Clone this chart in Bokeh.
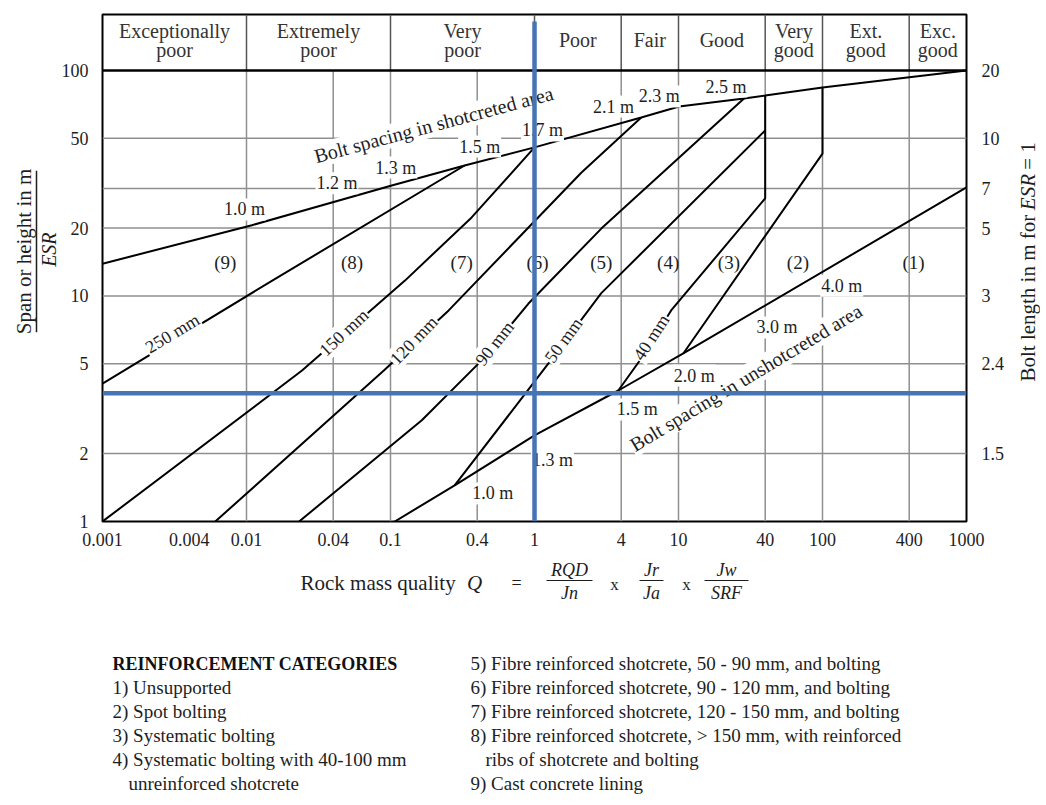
from bokeh.plotting import figure
from bokeh.models import Range1d, LogAxis, FixedTicker
from bokeh.layouts import column, row
from bokeh.core.properties import value
from bokeh.embed import file_html
from bokeh.resources import INLINE

FONT = "Liberation Serif"
INK = "#1e1e1e"
GRID = "#8f8f8f"
BLUE = "#4675b6"

# ---------------- axes ----------------
q_ticks = [0.001, 0.004, 0.01, 0.04, 0.1, 0.4, 1, 4, 10, 40, 100, 400, 1000]
q_tick_labels = ["0.001", "0.004", "0.01", "0.04", "0.1", "0.4", "1", "4", "10", "40", "100", "400", "1000"]
span_ticks = [1, 2, 5, 10, 20, 50, 100]
span_tick_labels = ["1", "2", "5", "10", "20", "50", "100"]
bolt_ticks = [2, 5, 10, 20, 30, 50, 100]
bolt_tick_labels = ["1.5", "2.4", "3", "5", "7", "10", "20"]
grid_q = [0.01, 0.04, 0.1, 0.4, 4, 10, 40, 100, 400]
grid_span = [2, 5, 10, 20, 30, 50]
q_min, q_max = 0.001, 1000
span_min, span_max = 1, 100
span_top = 177.1  # top of the rock-class header band

# ---------------- header (rock mass classes) ----------------
class_bounds = [0.001, 0.01, 0.1, 1, 4, 10, 40, 100, 400, 1000]
class_line1 = ["Exceptionally", "Extremely", "Very", "Poor", "Fair", "Good", "Very", "Ext.", "Exc."]
class_line2 = ["poor", "poor", "poor", "", "", "", "good", "good", "good"]

# ---------------- boundary curves (Q, span/ESR) ----------------
shot_bolt_q = [0.001, 0.0109, 0.102, 0.327, 1.0, 5.51, 10.1, 28.5, 40, 100, 1000]
shot_bolt_s = [13.9, 20.6, 30.9, 37.9, 45.6, 61.9, 69.2, 75.1, 77.4, 84.1, 100]
unshot_bolt_q = [0.107, 0.279, 1.0, 3.82, 10.8, 1000]
unshot_bolt_s = [1.0, 1.445, 2.41, 3.81, 5.56, 30.3]
t250_q = [0.001, 0.0151, 0.327]
t250_s = [4.09, 11.7, 37.9]
t150_q = [0.001, 0.0243, 0.126, 0.366, 1.0]
t150_s = [1.0, 4.67, 11.7, 22.3, 45.6]
t120_q = [0.00607, 0.0899, 0.2535, 2.12, 5.51]
t120_s = [1.0, 4.67, 8.63, 35.3, 61.9]
t90_q = [0.0232, 0.165, 0.43, 0.908, 2.91, 28.5]
t90_s = [1.0, 2.81, 5.18, 9.26, 19.9, 75.1]
t50_q = [0.279, 1.25, 2.91, 40]
t50_s = [1.445, 5.02, 10.3, 54.2]
t40_q = [3.82, 5.51, 8.89, 40, 40]
t40_s = [3.81, 5.28, 8.63, 27.1, 77.4]
b32_q = [10.8, 100, 100]
b32_s = [5.56, 42.8, 84.1]

example_q = 1.0
example_span = 3.7
example_top = 165

# ---------------- in-chart labels ----------------
region_names = ["(1)", "(2)", "(3)", "(4)", "(5)", "(6)", "(7)", "(8)", "(9)"]
region_q = [429, 67.5, 22.4, 8.48, 2.91, 1.05, 0.312, 0.054, 0.00712]
region_span = 14.1

shot_spacing_labels = ["1.0 m", "1.2 m", "1.3 m", "1.5 m", "1.7 m", "2.1 m", "2.3 m", "2.5 m"]
shot_spacing_q = [0.00968, 0.0425, 0.1089, 0.416, 1.137, 3.53, 7.35, 21.4]
shot_spacing_s = [24.2, 31.6, 37.1, 46.0, 54.2, 69.2, 76.7, 84.9]

unshot_spacing_labels = ["1.0 m", "1.3 m", "1.5 m", "2.0 m", "3.0 m", "4.0 m"]
unshot_spacing_q = [0.512, 1.333, 5.17, 12.84, 48.3, 136]
unshot_spacing_s = [1.331, 1.865, 3.14, 4.44, 7.25, 11.1]

thickness_labels = ["250 mm", "150 mm", "120 mm", "90 mm", "50 mm", "40 mm"]
thickness_q = [0.00306, 0.0474, 0.1452, 0.528, 1.59, 6.47]
thickness_s = [6.82, 6.89, 6.36, 6.16, 6.36, 6.55]
thickness_angle = [31, 43, 46, 52, 54, 57]

# ---------------- legend ----------------
legend_title = "REINFORCEMENT CATEGORIES"
legend_left = ["1) Unsupported", "2) Spot bolting", "3) Systematic bolting",
               "4) Systematic bolting with 40-100 mm", "unreinforced shotcrete"]
legend_right = ["5) Fibre reinforced shotcrete, 50 - 90 mm, and bolting",
                "6) Fibre reinforced shotcrete, 90 - 120 mm, and bolting",
                "7) Fibre reinforced shotcrete, 120 - 150 mm, and bolting",
                "8) Fibre reinforced shotcrete, > 150 mm, with reinforced",
                "ribs of shotcrete and bolting",
                "9) Cast concrete lining"]


def txt(fig, x, y, t, size="18px", align="center", angle=0, style="normal", color=INK, bg=None, baseline="middle"):
    kw = dict(x=x, y=y, text=t, text_font=value(FONT), text_font_size=size,
              text_align=align, text_baseline=baseline, angle=angle, angle_units="deg",
              text_font_style=style, text_color=color)
    if bg:
        kw.update(background_fill_color=bg, padding=1)
    return fig.text(**kw)


def page_fig(w, h, x0, y0):
    f = figure(width=w, height=h, x_range=Range1d(x0, x0 + w), y_range=Range1d(-(y0 + h), -y0),
               output_backend="svg", toolbar_location=None, min_border=0,
               x_axis_location=None, y_axis_location=None)
    f.grid.visible = False
    f.outline_line_color = None
    return f


TOP_H = 552

# ================= main chart =================
p = figure(width=952, height=TOP_H, x_axis_type="log", y_axis_type="log",
           x_range=Range1d(q_min, q_max), y_range=Range1d(span_min, span_top),
           output_backend="svg", toolbar_location=None,
           min_border_left=42, min_border_right=44, min_border_top=14, min_border_bottom=31)
p.grid.visible = False
p.outline_line_color = "black"
p.outline_line_width = 2

p.xaxis.ticker = FixedTicker(ticks=q_ticks)
p.xaxis.major_label_overrides = {t: l for t, l in zip(q_ticks, q_tick_labels)}
p.yaxis.ticker = FixedTicker(ticks=span_ticks)
p.yaxis.major_label_overrides = {t: l for t, l in zip(span_ticks, span_tick_labels)}
raxis = LogAxis(ticker=FixedTicker(ticks=bolt_ticks),
                major_label_overrides={t: l for t, l in zip(bolt_ticks, bolt_tick_labels)})
p.add_layout(raxis, "right")
for ax in (p.xaxis[0], p.yaxis[0], raxis):
    ax.axis_line_color = None
    ax.major_tick_line_color = None
    ax.minor_tick_line_color = None
    ax.major_label_text_font = FONT
    ax.major_label_text_font_size = "18px"
    ax.major_label_text_color = INK
p.xaxis.major_label_standoff = 5
p.yaxis[0].major_label_standoff = 8
raxis.major_label_standoff = 9

# grid
p.segment(x0=grid_q, y0=[span_min] * len(grid_q), x1=grid_q, y1=[span_max] * len(grid_q),
          line_color=GRID, line_width=1.5)
p.segment(x0=[q_min] * len(grid_span), y0=grid_span, x1=[q_max] * len(grid_span), y1=grid_span,
          line_color=GRID, line_width=1.5)

# header band
inner = class_bounds[1:-1]
p.segment(x0=inner, y0=[span_max] * len(inner), x1=inner, y1=[span_top] * len(inner),
          line_color="#555555", line_width=1.5)
p.line([q_min, q_max], [span_max, span_max], line_color="black", line_width=2.5)
mids = [(a * b) ** 0.5 for a, b in zip(class_bounds[:-1], class_bounds[1:])]
one = [m for m, l2 in zip(mids, class_line2) if not l2]
two = [m for m, l2 in zip(mids, class_line2) if l2]
txt(p, one, [135.9] * len(one), [a for a, b in zip(class_line1, class_line2) if not b], size="20px", color="#333333")
txt(p, two, [150.4] * len(two), [a for a, b in zip(class_line1, class_line2) if b], size="20px", color="#333333")
txt(p, two, [122.7] * len(two), [b for b in class_line2 if b], size="20px", color="#333333")

# curves
curves_q = [shot_bolt_q, unshot_bolt_q, t250_q, t150_q, t120_q, t90_q, t50_q, t40_q, b32_q]
curves_s = [shot_bolt_s, unshot_bolt_s, t250_s, t150_s, t120_s, t90_s, t50_s, t40_s, b32_s]
p.multi_line(xs=curves_q, ys=curves_s, line_color="black", line_width=2)

# labels
txt(p, region_q, [region_span] * len(region_q), region_names, size="19px")
txt(p, shot_spacing_q, shot_spacing_s, shot_spacing_labels, size="18px", bg="white")
txt(p, unshot_spacing_q, unshot_spacing_s, unshot_spacing_labels, size="18px", bg="white")
for lab, q, s, a in zip(thickness_labels, thickness_q, thickness_s, thickness_angle):
    txt(p, [q], [s], [lab], size="18px", angle=a, bg="white")
txt(p, [0.1995], [57.6], ["Bolt spacing in shotcreted area"], size="20px", angle=15, bg="white")
txt(p, [29.4], [4.35], ["Bolt spacing in unshotcreted area"], size="20px", angle=31, bg="white")

# example reading lines
p.segment(x0=[example_q], y0=[span_min], x1=[example_q], y1=[example_top], line_color=BLUE, line_width=4.5)
p.segment(x0=[q_min], y0=[example_span], x1=[q_max], y1=[example_span], line_color=BLUE, line_width=4.5)

# ================= left title =================
lf = page_fig(58, TOP_H, 0, 0)
txt(lf, [23], [-258], ["Span or height in m"], size="21px", angle=90)
lf.segment(x0=[36], y0=[-346], x1=[36], y1=[-170], line_color=INK, line_width=1.5)
txt(lf, [48], [-256], ["ESR"], size="20px", angle=90, style="italic")

# ================= right title =================
rf = page_fig(30, TOP_H, 1010, 0)
txt(rf, [1027], [-218], ["Bolt length in m for"], size="21px", angle=90, align="right")
txt(rf, [1027], [-213], ["ESR"], size="21px", angle=90, align="left", style="italic")
txt(rf, [1027], [-169], ["= 1"], size="21px", angle=90, align="left")

# ================= bottom: axis title + legend =================
BOT_H = 250
bf = page_fig(1040, BOT_H, 0, TOP_H)
txt(bf, [300], [-582], ["Rock mass quality"], size="21px", align="left")
txt(bf, [474], [-582], ["Q"], size="21px", style="italic")
txt(bf, [516], [-582], ["="], size="18px")
frac_num = ["RQD", "Jr", "Jw"]
frac_den = ["Jn", "Ja", "SRF"]
frac_x = [569, 651, 726]
frac_hw = [23, 12, 22]
txt(bf, frac_x, [-569] * 3, frac_num, size="18px", style="italic")
txt(bf, frac_x, [-592] * 3, frac_den, size="18px", style="italic")
bf.segment(x0=[a - w for a, w in zip(frac_x, frac_hw)], y0=[-580] * 3,
           x1=[a + w for a, w in zip(frac_x, frac_hw)], y1=[-580] * 3, line_color=INK, line_width=1.2)
txt(bf, [614, 686], [-584, -584], ["x", "x"], size="17px")

row_y = [-663, -687, -711, -735, -759, -783]
txt(bf, [112], [row_y[0]], [legend_title], size="18px", align="left", style="bold", color="#111111")
txt(bf, [112, 112, 112, 112, 128], row_y[1:], legend_left, size="19px", align="left")
txt(bf, [470, 470, 470, 470, 485, 470], row_y, legend_right, size="19px", align="left")

layout = column(row(lf, p, rf), bf)
open("out.html", "w").write(file_html(layout, INLINE))
